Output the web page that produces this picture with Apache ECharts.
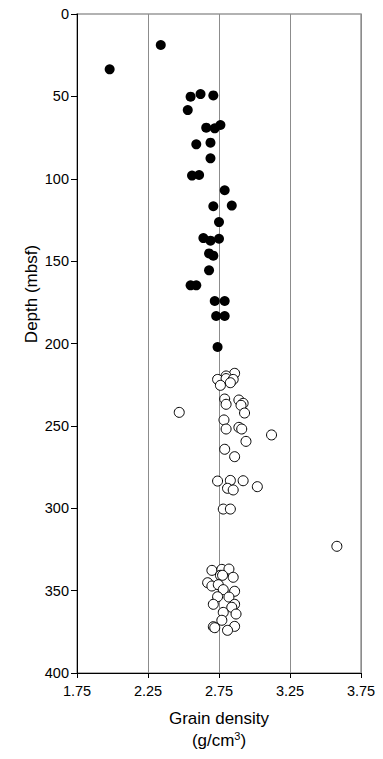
<!DOCTYPE html>
<html>
<head>
<meta charset="utf-8">
<script src="https://cdn.jsdelivr.net/npm/echarts@6/dist/echarts.min.js"></script>
<style>
html,body{margin:0;padding:0;background:#fff;}
#chart{width:383px;height:759px;}
</style>
</head>
<body>
<div id="chart"></div>
<script>
// Tick values
const xTicks = [1.75, 2.25, 2.75, 3.25, 3.75];
const yTicks = [0, 50, 100, 150, 200, 250, 300, 350, 400];

// Filled circles (upper interval)
const filledDensity = [1.98, 2.34, 2.55, 2.62, 2.71, 2.53, 2.66, 2.72, 2.76, 2.59, 2.69, 2.69, 2.56, 2.61, 2.79, 2.71, 2.84, 2.75, 2.64, 2.69, 2.75, 2.68, 2.71, 2.68, 2.55, 2.59, 2.72, 2.79, 2.73, 2.79, 2.74];
const filledDepth   = [33.6, 18.8, 50.2, 48.6, 49.4, 58.3, 69.0, 69.4, 67.4, 79.1, 78.1, 87.6, 98.1, 97.7, 107.0, 116.7, 116.3, 126.3, 136.0, 137.6, 136.4, 145.3, 146.7, 155.6, 164.7, 164.7, 174.2, 174.2, 183.3, 183.3, 202.1];

// Open circles (lower interval)
const openDensity = [2.86, 2.80, 2.74, 2.80, 2.85, 2.76, 2.83, 2.79, 2.89, 2.80, 2.92, 2.905, 2.47, 2.93, 2.785, 2.80, 2.89, 2.91, 3.12, 2.94, 2.79, 2.86, 2.74, 2.83, 2.92, 3.02, 2.81, 2.85, 2.78, 2.83, 3.58, 2.70, 2.77, 2.82, 2.76, 2.775, 2.85, 2.67, 2.70, 2.745, 2.78, 2.86, 2.74, 2.82, 2.71, 2.86, 2.84, 2.78, 2.87, 2.77, 2.71, 2.72, 2.86, 2.81];
const openDepth   = [218.1, 219.7, 221.8, 221.3, 221.8, 225.4, 223.8, 233.7, 234.3, 236.9, 236.3, 237.5, 241.8, 242.2, 246.4, 251.9, 250.9, 251.9, 255.5, 259.4, 264.2, 268.7, 283.5, 283.1, 283.3, 286.9, 287.9, 288.9, 300.5, 300.5, 323.1, 337.7, 337.1, 336.9, 340.7, 340.7, 341.9, 345.2, 347.2, 346.4, 349.4, 350.4, 353.7, 353.9, 358.3, 358.3, 360.1, 363.2, 364.2, 368.0, 371.9, 372.5, 371.7, 374.1];

const xName = 'Grain density';
const yName = 'Depth (mbsf)';

const filledData = filledDensity.map((v, i) => [v, filledDepth[i]]);
const openData = openDensity.map((v, i) => [v, openDepth[i]]);

const FONT = '"Liberation Sans", Arial, Helvetica, sans-serif';
const chart = echarts.init(document.getElementById('chart'), null, {renderer: 'svg'});

const option = {
  backgroundColor: '#fff',
  animation: false,
  textStyle: {fontFamily: FONT, color: '#000'},
  grid: {left: 77, right: 22, top: 14, bottom: 86, show: true, borderColor: '#999', borderWidth: 1.5},
  xAxis: {
    type: 'value',
    min: xTicks[0],
    max: xTicks[xTicks.length - 1],
    interval: xTicks[1] - xTicks[0],
    axisLine: {show: true, onZero: false, lineStyle: {color: '#000', width: 1}},
    axisTick: {show: true, length: 5, lineStyle: {color: '#000'}},
    axisLabel: {color: '#000', fontSize: 14.5, fontFamily: FONT, margin: 10, formatter: v => v.toFixed(2)},
    splitLine: {show: true, lineStyle: {color: '#8c8c8c', width: 1}}
  },
  yAxis: {
    type: 'value',
    inverse: true,
    min: yTicks[0],
    max: yTicks[yTicks.length - 1],
    interval: yTicks[1] - yTicks[0],
    axisLine: {show: true, onZero: false, lineStyle: {color: '#000', width: 1}},
    axisTick: {show: true, length: 6, lineStyle: {color: '#000'}},
    axisLabel: {color: '#000', fontSize: 14.5, fontFamily: FONT, margin: 8},
    splitLine: {show: false}
  },
  graphic: [
    {type: 'text', x: 219, y: 718, silent: true,
     style: {text: xName, fill: '#000', font: '17px ' + FONT, align: 'center', verticalAlign: 'middle'}},
    {type: 'text', x: 219, y: 740, silent: true,
     style: {text: '(g/cm{sup|3})', fill: '#000', font: '17px ' + FONT, align: 'center', verticalAlign: 'middle',
       rich: {sup: {fontSize: 11, fontFamily: FONT, fill: '#000', verticalAlign: 'top', padding: [0, 0, 8, 0]}}}},
    {type: 'text', x: 31, y: 294, rotation: Math.PI / 2, silent: true,
     style: {text: yName, fill: '#000', font: '17px ' + FONT, align: 'center', verticalAlign: 'middle'}}
  ],
  series: [
    {type: 'scatter', data: filledData, symbol: 'circle', symbolSize: 10,
     itemStyle: {color: '#000', borderColor: '#000', borderWidth: 0, opacity: 1}},
    {type: 'scatter', data: openData, symbol: 'circle', symbolSize: 10,
     itemStyle: {color: '#fff', borderColor: '#000', borderWidth: 1, opacity: 1}}
  ]
};
chart.setOption(option);
</script>
</body>
</html>
